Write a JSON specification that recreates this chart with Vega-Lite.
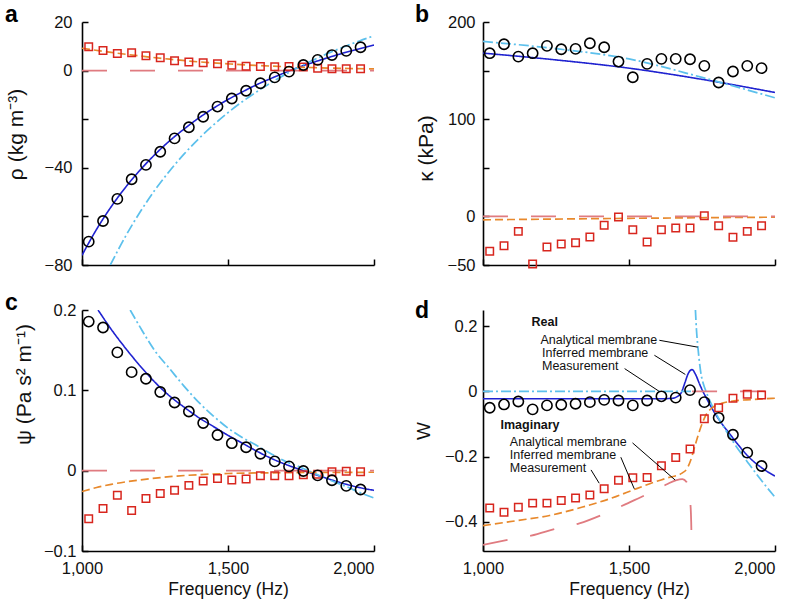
{
"$schema":"https://vega.github.io/schema/vega-lite/v6.json",
"padding":{"left":5,"top":4,"right":5,"bottom":5},
"config":{
 "view":{"stroke":null},
 "font":"Liberation Sans",
 "axis":{"domainColor":"#000","domainWidth":1.6,"tickColor":"#000","tickWidth":1.5,"tickSize":-6,"labelFont":"Liberation Sans","labelFontSize":16.5,"labelColor":"#111","titleFont":"Liberation Sans","titleFontSize":17.5,"titleFontWeight":"normal","titleColor":"#111","grid":false,"labelFlush":false,"labelPadding":15.5,"titlePadding":3},
 "axisY":{"titleFontSize":21},
 "title":{"font":"Liberation Sans","fontSize":23,"fontWeight":"bold","color":"#000","anchor":"start","frame":"group"}
},
"datasets":{
 "pts":[
{"p":"a","f":1023,"re":-70.4,"im":9.8},{"p":"a","f":1072,"re":-61.9,"im":8.3},{"p":"a","f":1121,"re":-52.8,"im":7.0},{"p":"a","f":1170,"re":-44.7,"im":7.3},{"p":"a","f":1219,"re":-38.8,"im":6.1},{"p":"a","f":1268,"re":-33.4,"im":5.3},{"p":"a","f":1317,"re":-27.9,"im":4.1},{"p":"a","f":1366,"re":-23.3,"im":3.5},{"p":"a","f":1415,"re":-19.0,"im":3.2},{"p":"a","f":1464,"re":-14.8,"im":2.8},{"p":"a","f":1513,"re":-11.5,"im":2.2},{"p":"a","f":1562,"re":-8.3,"im":1.8},{"p":"a","f":1611,"re":-5.2,"im":1.7},{"p":"a","f":1660,"re":-2.8,"im":1.6},{"p":"a","f":1709,"re":-0.4,"im":1.7},{"p":"a","f":1758,"re":2.3,"im":1.5},{"p":"a","f":1807,"re":4.4,"im":1.0},{"p":"a","f":1856,"re":6.4,"im":0.8},{"p":"a","f":1905,"re":8.1,"im":0.8},{"p":"a","f":1954,"re":9.6,"im":0.8},
{"p":"b","f":1023,"re":167.9,"im":-35.9},{"p":"b","f":1072,"re":177.1,"im":-30.1},{"p":"b","f":1121,"re":164.4,"im":-15.4},{"p":"b","f":1170,"re":167.9,"im":-48.9},{"p":"b","f":1219,"re":175.4,"im":-31.5},{"p":"b","f":1268,"re":172,"im":-28.4},{"p":"b","f":1317,"re":172.3,"im":-27},{"p":"b","f":1366,"re":178.1,"im":-21.2},{"p":"b","f":1415,"re":174,"im":-9.2},{"p":"b","f":1464,"re":159.3,"im":-0.7},{"p":"b","f":1513,"re":143.2,"im":-13.7},{"p":"b","f":1562,"re":156.9,"im":-26.3},{"p":"b","f":1611,"re":162.1,"im":-13.7},{"p":"b","f":1660,"re":162.1,"im":-12},{"p":"b","f":1709,"re":161.7,"im":-12},{"p":"b","f":1758,"re":154.9,"im":0.7},{"p":"b","f":1807,"re":137.8,"im":-9.6},{"p":"b","f":1856,"re":149.1,"im":-21.5},{"p":"b","f":1905,"re":154.9,"im":-15.4},{"p":"b","f":1954,"re":152.5,"im":-9.6},
{"p":"c","f":1023,"re":0.1856,"im":-0.060},{"p":"c","f":1072,"re":0.1782,"im":-0.047},{"p":"c","f":1121,"re":0.1473,"im":-0.0306},{"p":"c","f":1170,"re":0.1226,"im":-0.0497},{"p":"c","f":1219,"re":0.1144,"im":-0.0347},{"p":"c","f":1268,"re":0.0979,"im":-0.0285},{"p":"c","f":1317,"re":0.0848,"im":-0.0245},{"p":"c","f":1366,"re":0.0737,"im":-0.0183},{"p":"c","f":1415,"re":0.0593,"im":-0.0128},{"p":"c","f":1464,"re":0.0444,"im":-0.0097},{"p":"c","f":1513,"re":0.0342,"im":-0.0117},{"p":"c","f":1562,"re":0.0292,"im":-0.0105},{"p":"c","f":1611,"re":0.021,"im":-0.0064},{"p":"c","f":1660,"re":0.0115,"im":-0.0064},{"p":"c","f":1709,"re":0.0053,"im":-0.0064},{"p":"c","f":1758,"re":-0.0004,"im":-0.005},{"p":"c","f":1807,"re":-0.0058,"im":-0.0045},{"p":"c","f":1856,"re":-0.0119,"im":-0.0014},{"p":"c","f":1905,"re":-0.0189,"im":-0.0006},{"p":"c","f":1954,"re":-0.0235,"im":-0.0014},
{"p":"d","f":1023,"re":-0.05,"im":-0.358},{"p":"d","f":1072,"re":-0.04,"im":-0.371},{"p":"d","f":1121,"re":-0.031,"im":-0.356},{"p":"d","f":1170,"re":-0.055,"im":-0.343},{"p":"d","f":1219,"re":-0.043,"im":-0.343},{"p":"d","f":1268,"re":-0.041,"im":-0.335},{"p":"d","f":1317,"re":-0.038,"im":-0.327},{"p":"d","f":1366,"re":-0.033,"im":-0.318},{"p":"d","f":1415,"re":-0.026,"im":-0.299},{"p":"d","f":1464,"re":-0.028,"im":-0.273},{"p":"d","f":1513,"re":-0.043,"im":-0.265},{"p":"d","f":1562,"re":-0.028,"im":-0.264},{"p":"d","f":1611,"re":-0.015,"im":-0.228},{"p":"d","f":1660,"re":-0.019,"im":-0.203},{"p":"d","f":1709,"re":0.004,"im":-0.177},{"p":"d","f":1758,"re":-0.033,"im":-0.084},{"p":"d","f":1807,"re":-0.081,"im":-0.05},{"p":"d","f":1856,"re":-0.133,"im":-0.021},{"p":"d","f":1905,"re":-0.188,"im":-0.009},{"p":"d","f":1954,"re":-0.229,"im":-0.011}
 ],
 "crv":[
{"p":"a","s":"ir","g":1,"f":1000,"v":-76.0},{"p":"a","s":"ir","g":1,"f":1050,"v":-65.3},{"p":"a","s":"ir","g":1,"f":1100,"v":-56.0},{"p":"a","s":"ir","g":1,"f":1150,"v":-47.9},{"p":"a","s":"ir","g":1,"f":1200,"v":-40.8},{"p":"a","s":"ir","g":1,"f":1250,"v":-34.5},{"p":"a","s":"ir","g":1,"f":1300,"v":-28.9},{"p":"a","s":"ir","g":1,"f":1350,"v":-24.0},{"p":"a","s":"ir","g":1,"f":1400,"v":-19.5},{"p":"a","s":"ir","g":1,"f":1450,"v":-15.5},{"p":"a","s":"ir","g":1,"f":1500,"v":-11.9},{"p":"a","s":"ir","g":1,"f":1550,"v":-8.7},{"p":"a","s":"ir","g":1,"f":1600,"v":-5.7},{"p":"a","s":"ir","g":1,"f":1650,"v":-3.1},{"p":"a","s":"ir","g":1,"f":1700,"v":-0.6},{"p":"a","s":"ir","g":1,"f":1750,"v":1.7},{"p":"a","s":"ir","g":1,"f":1800,"v":3.7},{"p":"a","s":"ir","g":1,"f":1850,"v":5.6},{"p":"a","s":"ir","g":1,"f":1900,"v":7.4},{"p":"a","s":"ir","g":1,"f":1950,"v":9.0},{"p":"a","s":"ir","g":1,"f":2000,"v":10.5},
{"p":"a","s":"ar","g":1,"f":1097,"v":-80},{"p":"a","s":"ar","g":1,"f":1150,"v":-68.0},{"p":"a","s":"ar","g":1,"f":1200,"v":-58.0},{"p":"a","s":"ar","g":1,"f":1250,"v":-49.1},{"p":"a","s":"ar","g":1,"f":1300,"v":-41.3},{"p":"a","s":"ar","g":1,"f":1350,"v":-34.3},{"p":"a","s":"ar","g":1,"f":1400,"v":-28.0},{"p":"a","s":"ar","g":1,"f":1450,"v":-22.4},{"p":"a","s":"ar","g":1,"f":1500,"v":-17.3},{"p":"a","s":"ar","g":1,"f":1550,"v":-12.7},{"p":"a","s":"ar","g":1,"f":1600,"v":-8.6},{"p":"a","s":"ar","g":1,"f":1650,"v":-4.8},{"p":"a","s":"ar","g":1,"f":1700,"v":-1.3},{"p":"a","s":"ar","g":1,"f":1750,"v":1.9},{"p":"a","s":"ar","g":1,"f":1800,"v":4.8},{"p":"a","s":"ar","g":1,"f":1850,"v":7.5},{"p":"a","s":"ar","g":1,"f":1900,"v":9.9},{"p":"a","s":"ar","g":1,"f":1950,"v":12.2},{"p":"a","s":"ar","g":1,"f":2000,"v":14.3},
{"p":"a","s":"ii","g":1,"f":1000,"v":9.2},{"p":"a","s":"ii","g":1,"f":1100,"v":7.5},{"p":"a","s":"ii","g":1,"f":1200,"v":6.0},{"p":"a","s":"ii","g":1,"f":1300,"v":4.7},{"p":"a","s":"ii","g":1,"f":1400,"v":3.6},{"p":"a","s":"ii","g":1,"f":1500,"v":2.8},{"p":"a","s":"ii","g":1,"f":1600,"v":2.1},{"p":"a","s":"ii","g":1,"f":1700,"v":1.6},{"p":"a","s":"ii","g":1,"f":1800,"v":1.2},{"p":"a","s":"ii","g":1,"f":1900,"v":0.9},{"p":"a","s":"ii","g":1,"f":2000,"v":0.7},
{"p":"a","s":"ai","g":1,"f":1000,"v":0},{"p":"a","s":"ai","g":1,"f":2000,"v":0},
{"p":"b","s":"ir","g":1,"f":1000,"v":168},{"p":"b","s":"ir","g":1,"f":1250,"v":161},{"p":"b","s":"ir","g":1,"f":1500,"v":152.5},{"p":"b","s":"ir","g":1,"f":1750,"v":141},{"p":"b","s":"ir","g":1,"f":2000,"v":127.5},
{"p":"b","s":"ar","g":1,"f":1000,"v":180},{"p":"b","s":"ar","g":1,"f":1250,"v":172.5},{"p":"b","s":"ar","g":1,"f":1500,"v":162},{"p":"b","s":"ar","g":1,"f":1750,"v":143},{"p":"b","s":"ar","g":1,"f":2000,"v":122},
{"p":"b","s":"ii","g":1,"f":1000,"v":-3.5},{"p":"b","s":"ii","g":1,"f":1500,"v":-2},{"p":"b","s":"ii","g":1,"f":2000,"v":-0.8},
{"p":"b","s":"ai","g":1,"f":1000,"v":0},{"p":"b","s":"ai","g":1,"f":2000,"v":0},
{"p":"c","s":"ir","g":1,"f":1055,"v":0.2},{"p":"c","s":"ir","g":1,"f":1100,"v":0.176},{"p":"c","s":"ir","g":1,"f":1150,"v":0.152},{"p":"c","s":"ir","g":1,"f":1200,"v":0.130},{"p":"c","s":"ir","g":1,"f":1250,"v":0.110},{"p":"c","s":"ir","g":1,"f":1300,"v":0.093},{"p":"c","s":"ir","g":1,"f":1350,"v":0.079},{"p":"c","s":"ir","g":1,"f":1400,"v":0.066},{"p":"c","s":"ir","g":1,"f":1450,"v":0.055},{"p":"c","s":"ir","g":1,"f":1500,"v":0.044},{"p":"c","s":"ir","g":1,"f":1550,"v":0.034},{"p":"c","s":"ir","g":1,"f":1600,"v":0.024},{"p":"c","s":"ir","g":1,"f":1650,"v":0.015},{"p":"c","s":"ir","g":1,"f":1700,"v":0.0075},{"p":"c","s":"ir","g":1,"f":1750,"v":0.001},{"p":"c","s":"ir","g":1,"f":1800,"v":-0.005},{"p":"c","s":"ir","g":1,"f":1850,"v":-0.011},{"p":"c","s":"ir","g":1,"f":1900,"v":-0.0165},{"p":"c","s":"ir","g":1,"f":1950,"v":-0.021},{"p":"c","s":"ir","g":1,"f":2000,"v":-0.0245},
{"p":"c","s":"ar","g":1,"f":1165,"v":0.2},{"p":"c","s":"ar","g":1,"f":1200,"v":0.178},{"p":"c","s":"ar","g":1,"f":1250,"v":0.149},{"p":"c","s":"ar","g":1,"f":1300,"v":0.127},{"p":"c","s":"ar","g":1,"f":1350,"v":0.105},{"p":"c","s":"ar","g":1,"f":1400,"v":0.085},{"p":"c","s":"ar","g":1,"f":1450,"v":0.068},{"p":"c","s":"ar","g":1,"f":1500,"v":0.053},{"p":"c","s":"ar","g":1,"f":1550,"v":0.041},{"p":"c","s":"ar","g":1,"f":1600,"v":0.031},{"p":"c","s":"ar","g":1,"f":1650,"v":0.0205},{"p":"c","s":"ar","g":1,"f":1700,"v":0.011},{"p":"c","s":"ar","g":1,"f":1750,"v":0.004},{"p":"c","s":"ar","g":1,"f":1800,"v":-0.004},{"p":"c","s":"ar","g":1,"f":1850,"v":-0.012},{"p":"c","s":"ar","g":1,"f":1900,"v":-0.019},{"p":"c","s":"ar","g":1,"f":1950,"v":-0.027},{"p":"c","s":"ar","g":1,"f":2000,"v":-0.034},
{"p":"c","s":"ii","g":1,"f":1000,"v":-0.026},{"p":"c","s":"ii","g":1,"f":1050,"v":-0.021},{"p":"c","s":"ii","g":1,"f":1100,"v":-0.017},{"p":"c","s":"ii","g":1,"f":1200,"v":-0.0115},{"p":"c","s":"ii","g":1,"f":1300,"v":-0.0075},{"p":"c","s":"ii","g":1,"f":1400,"v":-0.005},{"p":"c","s":"ii","g":1,"f":1500,"v":-0.0035},{"p":"c","s":"ii","g":1,"f":1700,"v":-0.0025},{"p":"c","s":"ii","g":1,"f":2000,"v":-0.002},
{"p":"c","s":"ai","g":1,"f":1000,"v":0},{"p":"c","s":"ai","g":1,"f":2000,"v":0},
{"p":"d","s":"ir","g":1,"f":1000,"v":-0.0225},{"p":"d","s":"ir","g":1,"f":1600,"v":-0.0225},{"p":"d","s":"ir","g":1,"f":1645,"v":-0.0215},{"p":"d","s":"ir","g":1,"f":1665,"v":-0.016},{"p":"d","s":"ir","g":1,"f":1680,"v":-0.002},{"p":"d","s":"ir","g":1,"f":1692,"v":0.028},{"p":"d","s":"ir","g":1,"f":1704,"v":0.057},{"p":"d","s":"ir","g":1,"f":1716,"v":0.067},{"p":"d","s":"ir","g":1,"f":1728,"v":0.052},{"p":"d","s":"ir","g":1,"f":1741,"v":0.024},{"p":"d","s":"ir","g":1,"f":1752,"v":0.002},{"p":"d","s":"ir","g":1,"f":1763,"v":-0.017},{"p":"d","s":"ir","g":1,"f":1792,"v":-0.064},{"p":"d","s":"ir","g":1,"f":1854,"v":-0.141},{"p":"d","s":"ir","g":1,"f":1911,"v":-0.202},{"p":"d","s":"ir","g":1,"f":1960,"v":-0.238},{"p":"d","s":"ir","g":1,"f":2000,"v":-0.26},
{"p":"d","s":"ar","g":1,"f":1000,"v":0},{"p":"d","s":"ar","g":1,"f":1724,"v":0},
{"p":"d","s":"ar","g":2,"f":1727.5,"v":0.25},{"p":"d","s":"ar","g":2,"f":1731,"v":0.19},{"p":"d","s":"ar","g":2,"f":1735,"v":0.145},{"p":"d","s":"ar","g":2,"f":1740,"v":0.1},{"p":"d","s":"ar","g":2,"f":1746,"v":0.057},{"p":"d","s":"ar","g":2,"f":1754,"v":0.025},{"p":"d","s":"ar","g":2,"f":1763,"v":0.002},{"p":"d","s":"ar","g":2,"f":1780,"v":-0.035},{"p":"d","s":"ar","g":2,"f":1798,"v":-0.068},{"p":"d","s":"ar","g":2,"f":1825,"v":-0.11},{"p":"d","s":"ar","g":2,"f":1854,"v":-0.151},{"p":"d","s":"ar","g":2,"f":1911,"v":-0.223},{"p":"d","s":"ar","g":2,"f":1955,"v":-0.275},{"p":"d","s":"ar","g":2,"f":2000,"v":-0.325},
{"p":"d","s":"ii","g":1,"f":1000,"v":-0.412},{"p":"d","s":"ii","g":1,"f":1114,"v":-0.397},{"p":"d","s":"ii","g":1,"f":1228,"v":-0.381},{"p":"d","s":"ii","g":1,"f":1341,"v":-0.355},{"p":"d","s":"ii","g":1,"f":1455,"v":-0.323},{"p":"d","s":"ii","g":1,"f":1513,"v":-0.303},{"p":"d","s":"ii","g":1,"f":1569,"v":-0.284},{"p":"d","s":"ii","g":1,"f":1630,"v":-0.266},{"p":"d","s":"ii","g":1,"f":1683,"v":-0.25},{"p":"d","s":"ii","g":1,"f":1700,"v":-0.235},{"p":"d","s":"ii","g":1,"f":1711,"v":-0.212},{"p":"d","s":"ii","g":1,"f":1725,"v":-0.17},{"p":"d","s":"ii","g":1,"f":1742,"v":-0.12},{"p":"d","s":"ii","g":1,"f":1765,"v":-0.07},{"p":"d","s":"ii","g":1,"f":1790,"v":-0.047},{"p":"d","s":"ii","g":1,"f":1820,"v":-0.036},{"p":"d","s":"ii","g":1,"f":1860,"v":-0.029},{"p":"d","s":"ii","g":1,"f":1920,"v":-0.025},{"p":"d","s":"ii","g":1,"f":2000,"v":-0.021},
{"p":"d","s":"ai","g":1,"f":1000,"v":-0.471},{"p":"d","s":"ai","g":1,"f":1085,"v":-0.456},{"p":"d","s":"ai","g":1,"f":1165,"v":-0.443},{"p":"d","s":"ai","g":1,"f":1256,"v":-0.42},{"p":"d","s":"ai","g":1,"f":1330,"v":-0.405},{"p":"d","s":"ai","g":1,"f":1415,"v":-0.376},{"p":"d","s":"ai","g":1,"f":1489,"v":-0.346},{"p":"d","s":"ai","g":1,"f":1575,"v":-0.31},{"p":"d","s":"ai","g":1,"f":1630,"v":-0.285},{"p":"d","s":"ai","g":1,"f":1660,"v":-0.273},{"p":"d","s":"ai","g":1,"f":1683,"v":-0.269},{"p":"d","s":"ai","g":1,"f":1697,"v":-0.278},{"p":"d","s":"ai","g":1,"f":1705,"v":-0.3},{"p":"d","s":"ai","g":1,"f":1710,"v":-0.34},{"p":"d","s":"ai","g":1,"f":1713,"v":-0.4},{"p":"d","s":"ai","g":1,"f":1715,"v":-0.5},
{"p":"d","s":"ai","g":2,"f":1716,"v":0},{"p":"d","s":"ai","g":2,"f":2000,"v":0}
 ],
 "ann":[
{"t":"Real","f":1166,"v":0.213,"b":1},{"t":"Analytical membrane","f":1197,"v":0.159,"b":0},{"t":"Inferred membrane","f":1202,"v":0.118,"b":0},{"t":"Measurement","f":1202,"v":0.078,"b":0},
{"t":"Imaginary","f":1060,"v":-0.103,"b":1},{"t":"Analytical membrane","f":1092,"v":-0.154,"b":0},{"t":"Inferred membrane","f":1092,"v":-0.195,"b":0},{"t":"Measurement","f":1092,"v":-0.236,"b":0}
 ],
 "lead":[
{"f":1604,"v":0.157,"f2":1735,"v2":0.136},{"f":1587,"v":0.111,"f2":1693,"v2":0.052},{"f":1485,"v":0.070,"f2":1602,"v2":0.001},
{"f":1512,"v":-0.158,"f2":1658,"v2":-0.272},{"f":1472,"v":-0.202,"f2":1518,"v2":-0.299},{"f":1370,"v":-0.241,"f2":1398,"v2":-0.282}
 ]
},
"columns":2,
"spacing":{"row":45,"column":109},
"bounds":"flush",
"concat":[
 {"width":292,"height":243,
  "title":{"text":"a","dx":-77,"offset":-13},
  "encoding":{
   "x":{"field":"f","type":"quantitative","scale":{"domain":[1000,2000],"nice":false},"axis":{"values":[1000,1500,2000],"labels":false,"title":null}},
   "y":{"field":"v","type":"quantitative","scale":{"domain":[-80,20],"nice":false,"zero":false},"axis":{"values":[-80,-60,-40,-20,0,20],"labelExpr":"datum.value == -60 || datum.value == -20 ? '' : datum.label","title":"ρ (kg m⁻³)","labelPadding":16,"titlePadding":18,"titleY":112}}
  },
  "layer":[
   {"data":{"name":"crv"},"transform":[{"filter":"datum.p=='a'"}],"mark":{"type":"line","clip":true,"interpolate":"monotone"},
    "encoding":{"color":{"field":"s","type":"nominal","scale":{"domain":["ai","ar","ii","ir"],"range":["#e07b80","#5cc0ec","#e8892c","#1f22d0"]},"legend":null},"strokeDash":{"field":"s","type":"nominal","scale":{"domain":["ai","ar","ii","ir"],"range":[[25,23],[10,3,2,3],[8,4],[1,0]]},"legend":null},"strokeWidth":{"field":"s","type":"nominal","scale":{"domain":["ai","ar","ii","ir"],"range":[1.8,1.6,2,2]},"legend":null},"detail":{"field":"g","type":"nominal"}}},
   {"data":{"name":"pts"},"transform":[{"filter":"datum.p=='a'"},{"fold":["im"],"as":["k","v"]}],"mark":{"type":"point","shape":"square","filled":false,"color":"#d8261e","size":56,"strokeWidth":1.5,"opacity":1}},
   {"data":{"name":"pts"},"transform":[{"filter":"datum.p=='a'"},{"fold":["re"],"as":["k","v"]}],"mark":{"type":"point","shape":"circle","filled":false,"color":"#000","size":105,"strokeWidth":1.6,"opacity":1}}
  ]},
 {"width":292,"height":243,
  "title":{"text":"b","dx":-68,"offset":-13},
  "encoding":{
   "x":{"field":"f","type":"quantitative","scale":{"domain":[1000,2000],"nice":false},"axis":{"values":[1000,1500,2000],"labels":false,"title":null}},
   "y":{"field":"v","type":"quantitative","scale":{"domain":[-50,200],"nice":false,"zero":false},"axis":{"values":[-50,0,50,100,150,200],"labelExpr":"datum.value == 50 || datum.value == 150 ? '' : datum.label","title":"κ (kPa)","labelPadding":14,"titlePadding":11,"titleY":126}}
  },
  "layer":[
   {"data":{"name":"crv"},"transform":[{"filter":"datum.p=='b'"}],"mark":{"type":"line","clip":true,"interpolate":"monotone"},
    "encoding":{"color":{"field":"s","type":"nominal","scale":{"domain":["ai","ar","ii","ir"],"range":["#e07b80","#5cc0ec","#e8892c","#1f22d0"]},"legend":null},"strokeDash":{"field":"s","type":"nominal","scale":{"domain":["ai","ar","ii","ir"],"range":[[25,23],[10,3,2,3],[8,4],[1,0]]},"legend":null},"strokeWidth":{"field":"s","type":"nominal","scale":{"domain":["ai","ar","ii","ir"],"range":[1.8,1.6,2,2]},"legend":null},"detail":{"field":"g","type":"nominal"}}},
   {"data":{"name":"pts"},"transform":[{"filter":"datum.p=='b'"},{"fold":["im"],"as":["k","v"]}],"mark":{"type":"point","shape":"square","filled":false,"color":"#d8261e","size":56,"strokeWidth":1.5,"opacity":1}},
   {"data":{"name":"pts"},"transform":[{"filter":"datum.p=='b'"},{"fold":["re"],"as":["k","v"]}],"mark":{"type":"point","shape":"circle","filled":false,"color":"#000","size":105,"strokeWidth":1.6,"opacity":1}}
  ]},
 {"width":292,"height":241,
  "title":{"text":"c","dx":-77,"offset":-13},
  "encoding":{
   "x":{"field":"f","type":"quantitative","scale":{"domain":[1000,2000],"nice":false},"axis":{"values":[1000,1500,2000],"format":",d","title":"Frequency (Hz)","labelAlign":{"condition":{"test":"datum.value == 2000","value":"right"},"value":"center"}}},
   "y":{"field":"v","type":"quantitative","scale":{"domain":[-0.1,0.2],"nice":false,"zero":false},"axis":{"values":[-0.1,0,0.1,0.2],"format":"~g","title":"ψ (Pa s² m⁻¹)","labelPadding":12,"titlePadding":9,"titleY":74}}
  },
  "layer":[
   {"data":{"name":"crv"},"transform":[{"filter":"datum.p=='c'"}],"mark":{"type":"line","clip":true,"interpolate":"monotone"},
    "encoding":{"color":{"field":"s","type":"nominal","scale":{"domain":["ai","ar","ii","ir"],"range":["#e07b80","#5cc0ec","#e8892c","#1f22d0"]},"legend":null},"strokeDash":{"field":"s","type":"nominal","scale":{"domain":["ai","ar","ii","ir"],"range":[[25,23],[10,3,2,3],[8,4],[1,0]]},"legend":null},"strokeWidth":{"field":"s","type":"nominal","scale":{"domain":["ai","ar","ii","ir"],"range":[1.8,1.6,2,2]},"legend":null},"detail":{"field":"g","type":"nominal"}}},
   {"data":{"name":"pts"},"transform":[{"filter":"datum.p=='c'"},{"fold":["im"],"as":["k","v"]}],"mark":{"type":"point","shape":"square","filled":false,"color":"#d8261e","size":56,"strokeWidth":1.5,"opacity":1}},
   {"data":{"name":"pts"},"transform":[{"filter":"datum.p=='c'"},{"fold":["re"],"as":["k","v"]}],"mark":{"type":"point","shape":"circle","filled":false,"color":"#000","size":105,"strokeWidth":1.6,"opacity":1}}
  ]},
 {"width":292,"height":241,
  "title":{"text":"d","dx":-68,"offset":-13},
  "encoding":{
   "x":{"field":"f","type":"quantitative","scale":{"domain":[1000,2000],"nice":false},"axis":{"values":[1000,1500,2000],"format":",d","title":"Frequency (Hz)","labelAlign":{"condition":{"test":"datum.value == 2000","value":"right"},"value":"center"}}},
   "y":{"field":"v","type":"quantitative","scale":{"domain":[-0.49,0.25],"nice":false,"zero":false},"axis":{"values":[-0.4,-0.2,0,0.2],"format":"~g","title":"W","titleFontSize":19,"labelPadding":12,"titlePadding":11}}
  },
  "layer":[
   {"data":{"name":"crv"},"transform":[{"filter":"datum.p=='d'"}],"mark":{"type":"line","clip":true,"interpolate":"monotone"},
    "encoding":{"color":{"field":"s","type":"nominal","scale":{"domain":["ai","ar","ii","ir"],"range":["#e07b80","#5cc0ec","#e8892c","#1f22d0"]},"legend":null},"strokeDash":{"field":"s","type":"nominal","scale":{"domain":["ai","ar","ii","ir"],"range":[[25,23],[10,3,2,3],[8,4],[1,0]]},"legend":null},"strokeWidth":{"field":"s","type":"nominal","scale":{"domain":["ai","ar","ii","ir"],"range":[1.8,1.6,2,2]},"legend":null},"detail":{"field":"g","type":"nominal"}}},
   {"data":{"name":"pts"},"transform":[{"filter":"datum.p=='d'"},{"fold":["im"],"as":["k","v"]}],"mark":{"type":"point","shape":"square","filled":false,"color":"#d8261e","size":56,"strokeWidth":1.5,"opacity":1}},
   {"data":{"name":"pts"},"transform":[{"filter":"datum.p=='d'"},{"fold":["re"],"as":["k","v"]}],"mark":{"type":"point","shape":"circle","filled":false,"color":"#000","size":105,"strokeWidth":1.6,"opacity":1}},
   {"data":{"name":"lead"},"mark":{"type":"rule","color":"#000","strokeWidth":1},"encoding":{"x2":{"field":"f2"},"y2":{"field":"v2"}}},
   {"data":{"name":"ann"},"transform":[{"filter":"datum.b==0"}],"mark":{"type":"text","align":"left","baseline":"middle","fontSize":12.5,"font":"Liberation Sans","color":"#111"},"encoding":{"text":{"field":"t"}}},
   {"data":{"name":"ann"},"transform":[{"filter":"datum.b==1"}],"mark":{"type":"text","align":"left","baseline":"middle","fontSize":12.5,"fontWeight":"bold","font":"Liberation Sans","color":"#111"},"encoding":{"text":{"field":"t"}}}
  ]}
]
}
